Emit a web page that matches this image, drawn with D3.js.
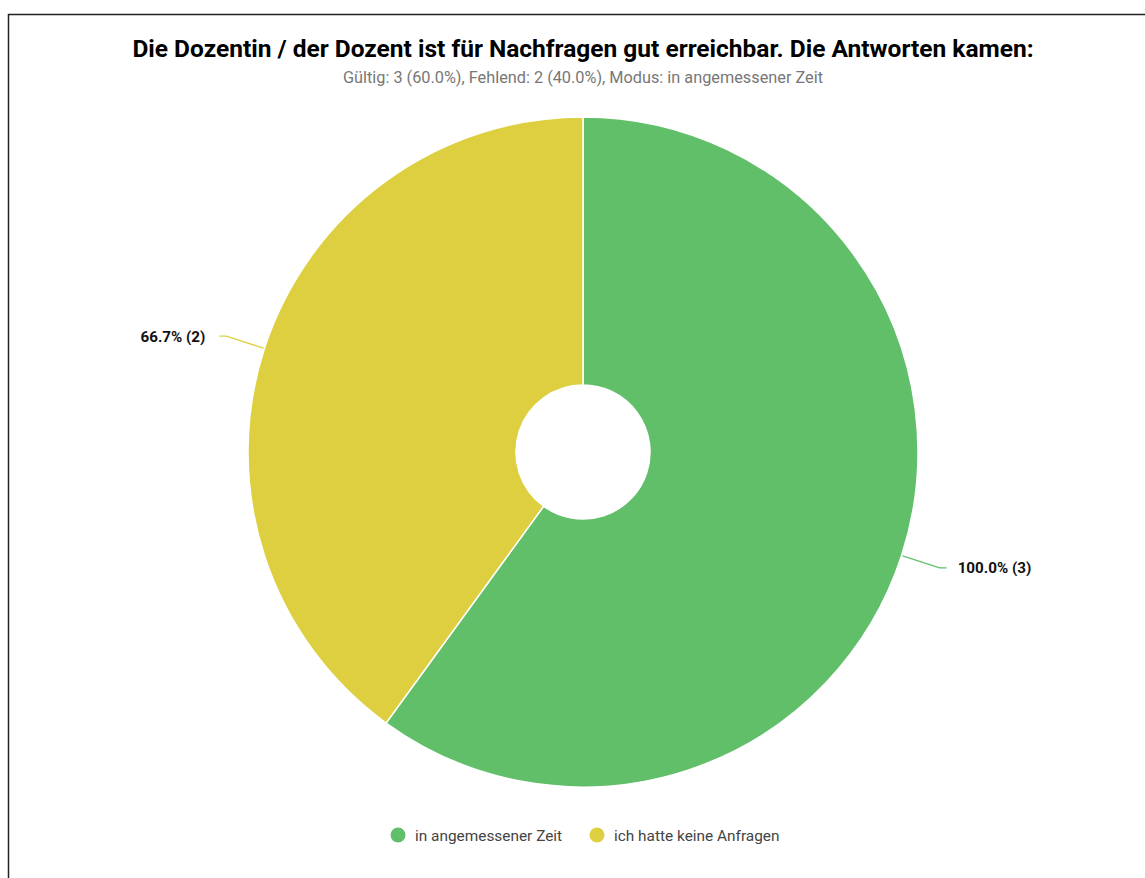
<!DOCTYPE html>
<html><head><meta charset="utf-8">
<script src="https://cdn.jsdelivr.net/npm/d3@7"></script>
<style>body{margin:0;background:#fff;font-family:Roboto, sans-serif;}</style>
</head><body>
<svg id="chart" width="1145" height="878"></svg>
<script>
const categories = ["in angemessener Zeit", "ich hatte keine Anfragen"];
const counts = [3, 2];
const labels = ["100.0% (3)", "66.7% (2)"];
const colors = ["#61bf6a", "#ddcf3f"];
const titleText = "Die Dozentin / der Dozent ist für Nachfragen gut erreichbar. Die Antworten kamen:";
const subtitleText = "Gültig: 3 (60.0%), Fehlend: 2 (40.0%), Modus: in angemessener Zeit";

const svg = d3.select("#chart");
svg.append("rect").attr("x", 8.5).attr("y", 14.5).attr("width", 1150).attr("height", 900)
  .attr("fill", "#fff").attr("stroke", "#222").attr("stroke-width", 1.5);

svg.append("text").attr("x", 583).attr("y", 57).attr("text-anchor", "middle")
  .attr("font-size", 24.5).attr("font-weight", "bold").attr("fill", "#000").text(titleText);
svg.append("text").attr("x", 583).attr("y", 83).attr("text-anchor", "middle")
  .attr("font-size", 16.3).attr("fill", "#777").text(subtitleText);

const cx = 583, cy = 452, R = 335, r0 = 67;
const g = svg.append("g").attr("transform", `translate(${cx},${cy})`);
const pie = d3.pie().sort(null).value(d => d)(counts);
const arc = d3.arc().innerRadius(r0).outerRadius(R);
g.selectAll("path.slice").data(pie).join("path").attr("class", "slice")
  .attr("d", arc).attr("fill", (d, i) => colors[i]).attr("stroke", "#fff").attr("stroke-width", 1.5);

pie.forEach((d, i) => {
  const a = (d.startAngle + d.endAngle) / 2;
  const sx = Math.sin(a), sy = -Math.cos(a);
  const p1 = [sx * (R + 1), sy * (R + 1)];
  const p2 = [sx * (R + 40), sy * (R + 40)];
  const right = sx > 0;
  const p3 = [p2[0] + (right ? 7 : -7), p2[1]];
  g.append("polyline").attr("points", [p1, p2, p3].map(p => p.join(",")).join(" "))
    .attr("fill", "none").attr("stroke", colors[i]).attr("stroke-width", 1.2);
  g.append("text").attr("x", p3[0] + (right ? 11 : -14)).attr("y", p3[1] + 5.5)
    .attr("text-anchor", right ? "start" : "end").attr("font-size", 15.2)
    .attr("font-weight", "bold").attr("fill", "#111").text(labels[i]);
});

const legX = [398, 597];
categories.forEach((c, i) => {
  svg.append("circle").attr("cx", legX[i]).attr("cy", 835).attr("r", 7.5).attr("fill", colors[i]);
  svg.append("text").attr("x", legX[i] + 17).attr("y", 840.5).attr("font-size", 15.4)
    .attr("fill", "#444").text(c);
});
</script>
</body></html>
